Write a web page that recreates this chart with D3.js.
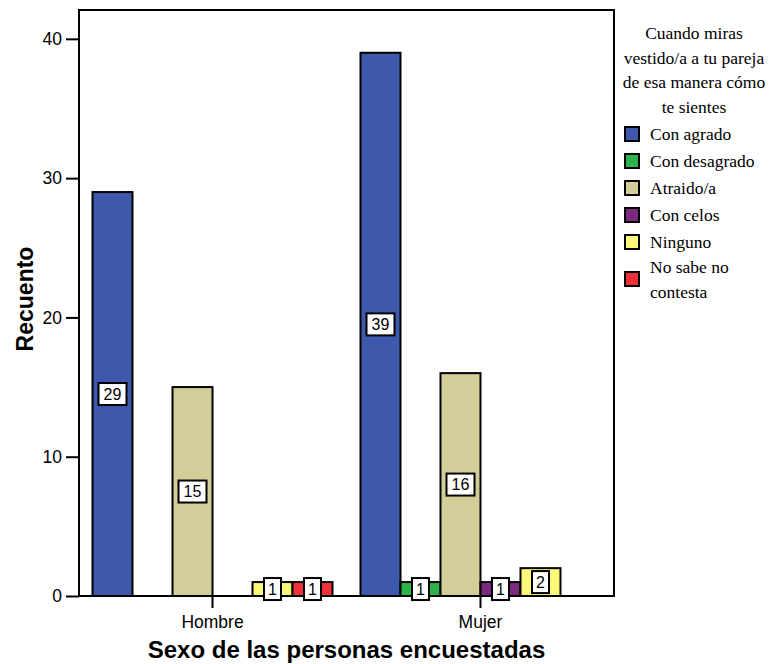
<!DOCTYPE html>
<html><head><meta charset="utf-8">
<script src="https://cdn.jsdelivr.net/npm/d3@7"></script>
<style>body{margin:0;background:#fff}svg{display:block}
.sans{font-family:"Liberation Sans", Arial, sans-serif}
.serif{font-family:"Liberation Serif", "Times New Roman", serif}
</style>
</head><body>
<svg id="c" width="771" height="664"></svg>
<script>
const categories = ["Hombre", "Mujer"];
const series = ["Con agrado", "Con desagrado", "Atraido/a", "Con celos", "Ninguno", "No sabe no contesta"];
const hombre = [29, 0, 15, 0, 1, 1];
const mujer = [39, 1, 16, 1, 2, 0];
const colors = ["#3e58ab", "#2db34b", "#d3ce99", "#7b2a80", "#fbf977", "#ef3239"];
const yTicks = [0, 10, 20, 30, 40];
const legendTitle = ["Cuando miras", "vestido/a a tu pareja", "de esa manera cómo", "te sientes"];
const legendLabels = [["Con agrado"], ["Con desagrado"], ["Atraido/a"], ["Con celos"], ["Ninguno"], ["No sabe no", "contesta"]];

const values = [hombre, mujer];
const svg = d3.select("#c");
const L = 79, R = 614, T = 10, B = 596;
const y = d3.scaleLinear().domain([0, 42.07]).range([B, T]);
const x0 = d3.scaleBand().domain(categories).range([L, R]).paddingInner(0.1045).paddingOuter(0.0504);
const x1 = d3.scaleBand().domain(series).range([0, x0.bandwidth()]);

// frame
svg.append("rect").attr("x", L).attr("y", T).attr("width", R - L).attr("height", B - T)
  .attr("fill", "#fff").attr("stroke", "#000").attr("stroke-width", 2);

// bars
const data = [];
categories.forEach((c, i) => series.forEach((s, j) => data.push({c, s, v: values[i][j], col: colors[j]})));
const shown = data.filter(d => d.v > 0);
svg.append("g").selectAll("rect").data(shown).join("rect")
  .attr("x", d => x0(d.c) + x1(d.s)).attr("y", d => y(d.v))
  .attr("width", x1.bandwidth()).attr("height", d => y(0) - y(d.v))
  .attr("fill", d => d.col).attr("stroke", "#000").attr("stroke-width", 2);

// y axis
const ya = svg.append("g").attr("transform", `translate(${L},0)`)
  .call(d3.axisLeft(y).tickValues(yTicks).tickSize(13).tickPadding(4));
ya.attr("font-family", null);
ya.select(".domain").remove();
ya.selectAll("line").attr("stroke", "#000").attr("stroke-width", 2);
ya.selectAll("text").attr("class", "sans").attr("font-size", 17.5).attr("fill", "#000");

// x axis
const xa = svg.append("g").attr("transform", `translate(0,${B})`)
  .call(d3.axisBottom(x0).tickSize(12).tickPadding(8));
xa.attr("font-family", null);
xa.select(".domain").remove();
xa.selectAll("line").attr("stroke", "#000").attr("stroke-width", 2);
xa.selectAll("text").attr("class", "sans").attr("font-size", 17.5).attr("fill", "#000");

// value labels
const lab = svg.append("g").selectAll("g").data(shown).join("g")
  .attr("transform", d => `translate(${x0(d.c) + x1(d.s) + x1.bandwidth() / 2},${(y(d.v) + y(0)) / 2})`);
lab.append("rect")
  .attr("x", d => String(d.v).length > 1 ? -14 : -8.5).attr("y", -11)
  .attr("width", d => String(d.v).length > 1 ? 28 : 17).attr("height", 22)
  .attr("fill", "#fff").attr("stroke", "#000").attr("stroke-width", 2);
lab.append("text").attr("class", "sans").attr("text-anchor", "middle").attr("dy", "0.37em")
  .attr("font-size", 16).text(d => d.v);

// axis titles
svg.append("text").attr("class", "sans").attr("x", (L + R) / 2).attr("y", 658).attr("text-anchor", "middle")
  .attr("font-weight", "bold").attr("font-size", 24)
  .text("Sexo de las personas encuestadas");
svg.append("text").attr("class", "sans").attr("transform", `translate(33,299) rotate(-90)`).attr("text-anchor", "middle")
  .attr("font-weight", "bold").attr("font-size", 23)
  .text("Recuento");

// legend
const lg = svg.append("g").attr("class", "serif").attr("font-size", 17.5).attr("fill", "#000");
legendTitle.forEach((t, i) => {
  lg.append("text").attr("x", 694).attr("y", 39 + i * 24.7).attr("text-anchor", "middle").text(t);
});
const items = lg.selectAll("g.it").data(series).join("g").attr("class", "it")
  .attr("transform", (d, i) => `translate(625,${127 + i * 27 + (i === 5 ? 10 : 0)})`);
items.append("rect").attr("width", 14).attr("height", 14)
  .attr("fill", (d, i) => colors[i]).attr("stroke", "#000").attr("stroke-width", 2);
items.each(function(d, i) {
  const g = d3.select(this);
  const lines = legendLabels[i];
  lines.forEach((t, k) => {
    g.append("text").attr("x", 25).attr("y", lines.length > 1 ? (1 + k * 25) : 13).text(t);
  });
});
</script>
</body></html>
